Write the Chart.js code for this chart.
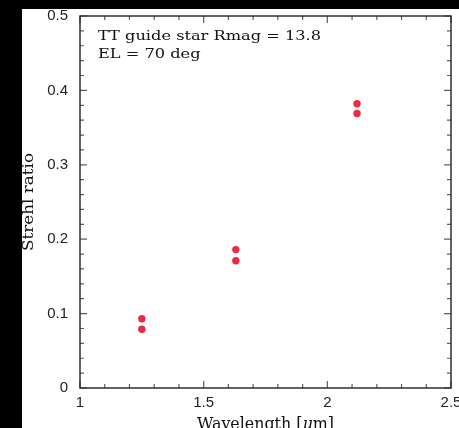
<!DOCTYPE html>
<html>
<head>
<meta charset="utf-8">
<script src="https://cdn.jsdelivr.net/npm/chart.js@4.4.1/dist/chart.umd.min.js"></script>
<style>
  html, body { margin: 0; padding: 0; background: #fff; }
  #wrap { width: 459px; height: 428px; }
</style>
</head>
<body>
<div id="wrap"><canvas id="chart" width="459" height="428"></canvas></div>
<script>
const wavelength = [1.25, 1.25, 1.63, 1.63, 2.12, 2.12];
const strehl = [0.093, 0.079, 0.186, 0.171, 0.382, 0.369];
const xTickLabels = ['1', '1.5', '2', '2.5'];
const yTickLabels = ['0', '0.1', '0.2', '0.3', '0.4', '0.5'];
const noteLines = ['TT guide star Rmag = 13.8', 'EL = 70 deg'];

const SERIF = '"DejaVu Serif", "Liberation Serif", serif';
const SANS = '"Liberation Sans", Arial, sans-serif';

// draws text parts (each with its own font) stretched to a target width
function drawStretched(ctx, parts, x, y, targetWidth, align) {
    let total = 0;
    parts.forEach(p => { ctx.font = p.font; p.w = ctx.measureText(p.text).width; total += p.w; });
    const sx = targetWidth ? targetWidth / total : 1;
    ctx.save();
    ctx.translate(x, y);
    ctx.scale(sx, 1);
    let cx = align === 'center' ? -total / 2 : 0;
    ctx.textAlign = 'left';
    ctx.textBaseline = 'alphabetic';
    parts.forEach(p => {
        ctx.font = p.font;
        ctx.fillText(p.text, cx, 0);
        cx += p.w;
    });
    ctx.restore();
}

const framePlugin = {
    id: 'frame',
    beforeDraw(chart) {
        const ctx = chart.ctx;
        ctx.save();
        ctx.fillStyle = '#fff';
        ctx.fillRect(0, 0, chart.width, chart.height);
        ctx.fillStyle = '#000';
        ctx.fillRect(0, 0, 22, chart.height);
        ctx.fillRect(0, 0, chart.width, 9);
        ctx.restore();
    },
    afterDatasetsDraw(chart) {
        const ctx = chart.ctx;
        const { left, right, top, bottom } = chart.chartArea;
        const xs = chart.scales.x, ys = chart.scales.y;
        ctx.save();
        // tick marks on all four sides, pointing inward
        ctx.strokeStyle = '#4f6470';
        ctx.lineWidth = 1.2;
        ctx.beginPath();
        for (let i = 0; i <= 15; i++) {
            const px = xs.getPixelForValue(1 + i * 0.1);
            const len = i % 5 === 0 ? 7 : 4;
            ctx.moveTo(px, bottom); ctx.lineTo(px, bottom - len);
            ctx.moveTo(px, top); ctx.lineTo(px, top + len);
        }
        for (let i = 0; i <= 25; i++) {
            const py = ys.getPixelForValue(i * 0.02);
            const len = i % 5 === 0 ? 7 : 4;
            ctx.moveTo(left, py); ctx.lineTo(left + len, py);
            ctx.moveTo(right, py); ctx.lineTo(right - len, py);
        }
        ctx.stroke();
        // box
        ctx.strokeStyle = '#222';
        ctx.lineWidth = 1.4;
        ctx.strokeRect(left, top, right - left, bottom - top);

        // annotation
        ctx.fillStyle = '#111';
        const f = '13px ' + SERIF;
        ctx.font = f;
        const sx = 223 / ctx.measureText(noteLines[0]).width;
        drawStretched(ctx, [{ text: noteLines[0], font: f }], 98, 39.5, 223);
        ctx.font = f;
        drawStretched(ctx, [{ text: noteLines[1], font: f }], 98, 57.5, ctx.measureText(noteLines[1]).width * sx);

        // x title (cut off at the bottom edge, as in the original)
        const xf = '16px ' + SERIF;
        drawStretched(ctx, [
            { text: 'Wavelength [', font: xf },
            { text: 'μ', font: 'italic ' + xf },
            { text: 'm]', font: xf }
        ], 265.5, 428.5, 137, 'center');

        // y title
        const yf = '14px ' + SERIF;
        ctx.save();
        ctx.translate(33, (top + bottom) / 2);
        ctx.rotate(-Math.PI / 2);
        drawStretched(ctx, [{ text: 'Strehl ratio', font: yf }], 0, 0, 98, 'center');
        ctx.restore();
        ctx.restore();
    }
};

new Chart(document.getElementById('chart'), {
    type: 'scatter',
    data: {
        datasets: [{
            label: 'Strehl',
            data: wavelength.map((w, i) => ({ x: w, y: strehl[i] })),
            backgroundColor: '#ec2a42',
            borderWidth: 0,
            pointRadius: 3.7,
            pointHoverRadius: 3.7
        }]
    },
    plugins: [framePlugin],
    options: {
        responsive: false,
        animation: false,
        layout: { padding: { left: 0, top: 16, right: 8, bottom: 0 } },
        plugins: {
            legend: { display: false },
            tooltip: { enabled: false }
        },
        scales: {
            x: {
                type: 'linear',
                min: 1,
                max: 2.5,
                grid: { display: false, drawTicks: false },
                border: { display: false },
                ticks: {
                    stepSize: 0.5,
                    autoSkip: false,
                    maxRotation: 0,
                    padding: 6,
                    color: '#222',
                    font: { family: SANS, size: 15 },
                    callback: (v, i) => xTickLabels[i]
                },
                afterFit: (scale) => {
                    scale.height = 40;
                    scale.paddingLeft = 0;
                    scale.paddingRight = 0;
                }
            },
            y: {
                type: 'linear',
                min: 0,
                max: 0.5,
                grid: { display: false, drawTicks: false },
                border: { display: false },
                ticks: {
                    stepSize: 0.1,
                    autoSkip: false,
                    padding: 12,
                    color: '#222',
                    font: { family: SANS, size: 15 },
                    callback: (v, i) => yTickLabels[i]
                },
                afterFit: (scale) => {
                    scale.width = 80;
                    scale.paddingTop = 0;
                    scale.paddingBottom = 0;
                }
            }
        }
    }
});
</script>
</body>
</html>
